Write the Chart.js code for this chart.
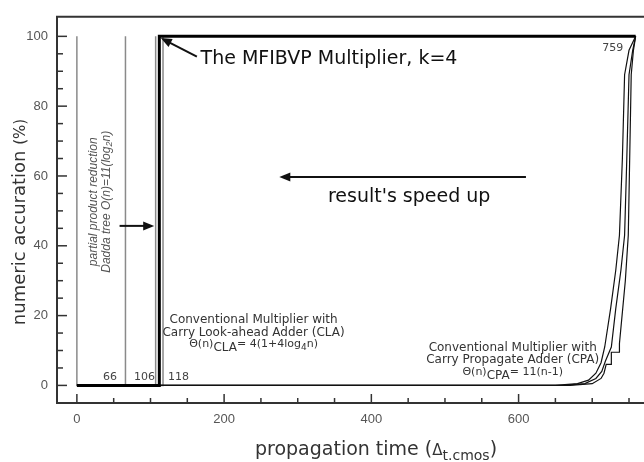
<!DOCTYPE html>
<html><head><meta charset="utf-8">
<script src="https://cdn.jsdelivr.net/npm/chart.js@4.4.1/dist/chart.umd.min.js"></script>
<style>html,body{margin:0;padding:0;background:#fff}canvas{display:block}</style>
</head><body>
<canvas id="c" width="644" height="462"></canvas>
<script>
const xTicks=[0,200,400,600];
const yTicks=[0,20,40,60,80,100];
// vertical guides (partial product reduction marks)
const guideX=[0,66,107];
// MFIBVP multiplier, k=4
const mfX=[0,112,112,759]; const mfY=[0,0,100,100];
// conventional multiplier with CLA
const claX=[0,117,117,759]; const claY=[0,0,100,100];
// conventional multiplier with CPA (three runs)
const cpaAX=[0,650,680,695,705,712,717,725,732,737,741,744,750,759];
const cpaAY=[0,0,0.5,1.5,3.5,6.5,11,22,33,43,65,89,96,100];
const cpaBX=[0,660,690,705,713,718,722,726,732,739,744,747,750,755,759];
const cpaBY=[0,0,0.5,2,4,7,9,11,22,33,43,65,89,96,100];
const cpaCX=[0,670,700,712,716,719,726,726,737,737,745,749,753,756,759];
const cpaCY=[0,0,0.5,2,3.5,6,6,9.5,9.5,12,30,43,89,96,100];

const pts=(xs,ys)=>xs.map((x,i)=>({x,y:ys[i]}));
const line=(data,color,w)=>({data,borderColor:color,borderWidth:w,showLine:true,pointRadius:0,fill:false,tension:0});

const datasets=[
  line(pts(mfX,mfY),'#000',3),
  line(pts(cpaAX,cpaAY),'#111',1.2),
  line(pts(cpaBX,cpaBY),'#111',1.2),
  line(pts(cpaCX,cpaCY),'#111',1.2),
  line(pts(claX,claY),'#8a8a8a',1.5)
];
guideX.forEach(g=>datasets.push(line(pts([g,g],[0,100]),'#8a8a8a',1.5)));

function arrow(ctx,x1,y1,x2,y2){
  const a=Math.atan2(y2-y1,x2-x1), L=11, W=4.5;
  ctx.beginPath(); ctx.moveTo(x1,y1); ctx.lineTo(x2-Math.cos(a)*L*0.8,y2-Math.sin(a)*L*0.8); ctx.stroke();
  ctx.beginPath(); ctx.moveTo(x2,y2);
  ctx.lineTo(x2-Math.cos(a)*L-Math.sin(a)*W,y2-Math.sin(a)*L+Math.cos(a)*W);
  ctx.lineTo(x2-Math.cos(a)*L+Math.sin(a)*W,y2-Math.sin(a)*L-Math.cos(a)*W);
  ctx.closePath(); ctx.fill();
}
// parts: [text, size, dy]; centred on x
function rich(ctx,parts,x,y,family,style){
  const f=p=>(style?style+' ':'')+p[1]+'px '+family;
  ctx.textAlign='left';
  let w=0; parts.forEach(p=>{ctx.font=f(p); w+=ctx.measureText(p[0]).width;});
  let cx=x-w/2;
  parts.forEach(p=>{ctx.font=f(p); ctx.fillText(p[0],cx,y+(p[2]||0)); cx+=ctx.measureText(p[0]).width;});
}

const deco={id:'deco',afterDraw(chart){
  const {ctx,chartArea:a,scales:{x,y}}=chart;
  ctx.save();
  // frame
  ctx.strokeStyle='#333'; ctx.lineWidth=2;
  ctx.beginPath(); ctx.moveTo(644,a.top); ctx.lineTo(a.left,a.top); ctx.lineTo(a.left,a.bottom); ctx.lineTo(644,a.bottom); ctx.stroke();
  ctx.lineWidth=1.5;
  for(let v=0;v<=100;v+=5){ const py=y.getPixelForValue(v); const L=v%20?6:10;
    ctx.beginPath(); ctx.moveTo(a.left,py); ctx.lineTo(a.left+L,py); ctx.stroke(); }
  for(let v=0;v<=750;v+=50){ const px=x.getPixelForValue(v); const L=v%200?5:9;
    ctx.beginPath(); ctx.moveTo(px,a.bottom); ctx.lineTo(px,a.bottom-L); ctx.stroke(); }
  // arrows
  ctx.strokeStyle='#111'; ctx.fillStyle='#111'; ctx.lineWidth=2;
  arrow(ctx,x.getPixelForValue(163),y.getPixelForValue(94.2),x.getPixelForValue(114),y.getPixelForValue(99.5));
  arrow(ctx,x.getPixelForValue(610),y.getPixelForValue(59.7),x.getPixelForValue(275),y.getPixelForValue(59.7));
  arrow(ctx,x.getPixelForValue(58),y.getPixelForValue(45.7),x.getPixelForValue(105),y.getPixelForValue(45.7));
  // texts
  ctx.fillStyle='#111'; ctx.textBaseline='alphabetic'; ctx.textAlign='left';
  ctx.font='19px "DejaVu Sans"';
  ctx.fillText('The MFIBVP Multiplier, k=4',x.getPixelForValue(168),y.getPixelForValue(92.1));
  ctx.fillText("result's speed up",x.getPixelForValue(341),y.getPixelForValue(52.4));
  ctx.fillStyle='#333';
  ctx.font='12px "DejaVu Sans"'; ctx.textAlign='center';
  const cla=x.getPixelForValue(240), cpa=x.getPixelForValue(592);
  ctx.fillText('Conventional Multiplier with',cla,y.getPixelForValue(18));
  ctx.fillText('Carry Look-ahead Adder (CLA)',cla,y.getPixelForValue(14.1));
  ctx.fillText('Conventional Multiplier with',cpa,y.getPixelForValue(10));
  ctx.fillText('Carry Propagate Adder (CPA)',cpa,y.getPixelForValue(6.3));
  rich(ctx,[['\u0398(n)',11],['CLA',12,4],['= 4(1+4log',11],['4',9,3],['n)',11]],cla,y.getPixelForValue(11),'"DejaVu Sans"');
  rich(ctx,[['\u0398(n)',11],['CPA',12,4],['= 11(n-1)',11]],cpa,y.getPixelForValue(3.1),'"DejaVu Sans"');
  // small numbers
  ctx.font='11px "DejaVu Sans"'; ctx.fillStyle='#444'; ctx.textAlign='center';
  const by=y.getPixelForValue(0)-5;
  ctx.fillText('66',x.getPixelForValue(45),by);
  ctx.fillText('106',x.getPixelForValue(92),by);
  ctx.fillText('118',x.getPixelForValue(138),by);
  ctx.fillText('759',x.getPixelForValue(728),y.getPixelForValue(95.8));
  // rotated italic note
  ctx.fillStyle='#555';
  ctx.save();
  ctx.translate(x.getPixelForValue(27),y.getPixelForValue(52.6)); ctx.rotate(-Math.PI/2);
  rich(ctx,[['partial product reduction',12]],0,0,'"Liberation Sans"','italic');
  ctx.restore();
  ctx.save();
  ctx.translate(x.getPixelForValue(45),y.getPixelForValue(52.6)); ctx.rotate(-Math.PI/2);
  rich(ctx,[['Dadda tree O(n)=11(log',12],['2',9,2],['n)',12]],0,0,'"Liberation Sans"','italic');
  ctx.restore();
  // axis titles
  ctx.fillStyle='#333';
  ctx.save();
  ctx.translate(25,222); ctx.rotate(-Math.PI/2);
  rich(ctx,[['numeric accuration ',18],['(%)',15]],0,0,'"DejaVu Sans"');
  ctx.restore();
  rich(ctx,[['propagation time (',19],['\u0394',15],['t.cmos',14,5],[')',19]],376,455,'"DejaVu Sans"');
  ctx.restore();
}};

new Chart(document.getElementById('c'),{
  type:'scatter',
  data:{datasets},
  options:{
    responsive:false, animation:false, devicePixelRatio:1,
    layout:{padding:{top:8,right:1,left:0,bottom:0}},
    plugins:{legend:{display:false},tooltip:{enabled:false}},
    scales:{
      x:{type:'linear',min:-27,max:769,
        grid:{display:false,drawTicks:false},border:{display:false},
        afterBuildTicks:s=>{s.ticks=xTicks.map(v=>({value:v}));},
        afterFit:s=>{s.height=59;},
        ticks:{font:{family:'"Liberation Sans"',size:13},color:'#555',padding:9,maxRotation:0}},
      y:{type:'linear',min:-5.04,max:105.6,
        grid:{display:false,drawTicks:false},border:{display:false},
        afterBuildTicks:s=>{s.ticks=yTicks.map(v=>({value:v}));},
        afterFit:s=>{s.width=57;},
        ticks:{font:{family:'"Liberation Sans"',size:13},color:'#555',padding:9}}
    }
  },
  plugins:[deco]
});
</script>
</body></html>
